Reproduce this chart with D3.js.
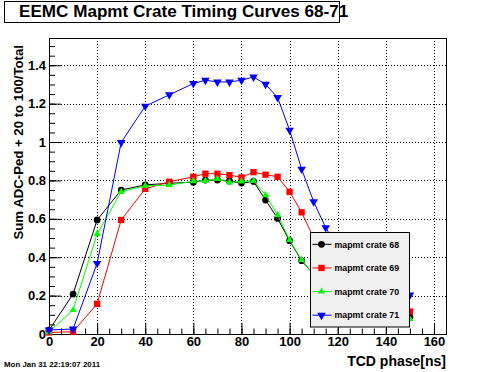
<!DOCTYPE html>
<html>
<head>
<meta charset="utf-8">
<script src="https://cdn.jsdelivr.net/npm/d3@7"></script>
<style>
  body { margin: 0; background: #fff; }
  svg { display: block; font-family: "Liberation Sans", Arial, Helvetica, sans-serif; font-weight: bold; }
</style>
</head>
<body>
<svg id="vis" width="496" height="372"></svg>
<script>
// TCD phase [ns] of each scan point
var phase = [0, 10, 20, 30, 40, 50, 60, 65, 70, 75, 80, 85, 90, 95, 100, 105, 110, 115, 120, 130, 140, 150];

// Sum ADC-Ped + 20 to 100 / Total, one array per crate
var crate68 = [0.02, 0.208, 0.594, 0.750, 0.777, 0.785, 0.791, 0.802, 0.802, 0.797, 0.786, 0.795, 0.698, 0.602, 0.486, 0.382, 0.31, 0.25, 0.20, 0.13, 0.10, 0.09];
var crate69 = [0.008, 0.012, 0.157, 0.594, 0.756, 0.793, 0.819, 0.835, 0.835, 0.828, 0.816, 0.843, 0.830, 0.819, 0.741, 0.634, 0.50, 0.40, 0.31, 0.19, 0.14, 0.117];
var crate70 = [0.01, 0.125, 0.521, 0.741, 0.772, 0.776, 0.796, 0.798, 0.808, 0.790, 0.795, 0.798, 0.724, 0.620, 0.490, 0.386, 0.31, 0.25, 0.19, 0.12, 0.09, 0.078];
var crate71 = [0.021, 0.026, 0.368, 0.998, 1.187, 1.246, 1.305, 1.322, 1.313, 1.313, 1.322, 1.339, 1.301, 1.232, 1.062, 0.859, 0.689, 0.554, 0.45, 0.32, 0.24, 0.203];

var seriesNames = ["mapmt crate 68", "mapmt crate 69", "mapmt crate 70", "mapmt crate 71"];
var xTicks = [0, 20, 40, 60, 80, 100, 120, 140, 160];
var yTicks = [0, 0.2, 0.4, 0.6, 0.8, 1, 1.2, 1.4];

var FRAME = {left: 49, right: 446, top: 38, bottom: 334};

var svg = d3.select("#vis");

var x = d3.scaleLinear().domain([0, 165]).range([FRAME.left, FRAME.right]);
var y = d3.scaleLinear().domain([0, 1.542]).range([FRAME.bottom, FRAME.top]);

// looks for each crate
var styles = [
    {color: "#000000", symbol: d3.symbolCircle, size: 36, rot: 0},
    {color: "#ff0000", symbol: d3.symbolSquare, size: 40, rot: 0},
    {color: "#00ff00", symbol: d3.symbolTriangle, size: 22, rot: 0},
    {color: "#0000ff", symbol: d3.symbolTriangle, size: 32, rot: 180}
];
var allSeries = [crate68, crate69, crate70, crate71].map(function (vals, i) {
    return {name: seriesNames[i], style: styles[i], points: phase.map(function (p, j) { return [p, vals[j]]; })};
});

// dotted grid
var grid = svg.append("g");
grid.selectAll("line.gx")
    .data(xTicks.slice(1))
    .enter().append("line")
    .attr("x1", function (d) { return Math.round(x(d)) + 0.5; })
    .attr("x2", function (d) { return Math.round(x(d)) + 0.5; })
    .attr("y1", FRAME.top).attr("y2", FRAME.bottom)
    .attr("stroke", "#000").attr("stroke-dasharray", "1,2");
grid.selectAll("line.gy")
    .data(yTicks.slice(1))
    .enter().append("line")
    .attr("y1", function (d) { return Math.round(y(d)) + 0.5; })
    .attr("y2", function (d) { return Math.round(y(d)) + 0.5; })
    .attr("x1", FRAME.left).attr("x2", FRAME.right)
    .attr("stroke", "#000").attr("stroke-dasharray", "1,2");

// frame
svg.append("rect")
    .attr("x", FRAME.left + 0.5).attr("y", FRAME.top + 0.5)
    .attr("width", FRAME.right - FRAME.left).attr("height", FRAME.bottom - FRAME.top)
    .attr("fill", "none").attr("stroke", "#000");

// axes, ticks drawn inward like ROOT
var xMinor = d3.range(0, 166, 5);
var yMinor = d3.range(0, 1.5401, 0.05);

svg.append("g")
    .attr("transform", "translate(0," + FRAME.bottom + ")")
    .call(d3.axisBottom(x).tickValues(xMinor).tickSize(-5.5).tickSizeOuter(0).tickFormat(""));
var xAxis = svg.append("g")
    .attr("transform", "translate(0," + FRAME.bottom + ")")
    .call(d3.axisBottom(x).tickValues(xTicks).tickSize(-11).tickSizeOuter(0).tickPadding(3).tickFormat(d3.format("d")));

svg.append("g")
    .attr("transform", "translate(" + FRAME.left + ",0)")
    .call(d3.axisLeft(y).tickValues(yMinor).tickSize(-6).tickSizeOuter(0).tickFormat(""));
var yAxis = svg.append("g")
    .attr("transform", "translate(" + FRAME.left + ",0)")
    .call(d3.axisLeft(y).tickValues(yTicks).tickSize(-12).tickSizeOuter(0).tickPadding(3).tickFormat(function (d) { return d3.format("")(+d.toFixed(1)); }));

svg.selectAll(".tick line").attr("stroke", "#000");
svg.selectAll(".domain").attr("stroke", "#000");
xAxis.selectAll("text").attr("font-size", 13).attr("fill", "#000");
yAxis.selectAll("text").attr("font-size", 13).attr("fill", "#000");
xAxis.attr("font-family", null);
yAxis.attr("font-family", null);

// polylines through the scan points
var line = d3.line()
    .x(function (d) { return x(d[0]); })
    .y(function (d) { return y(d[1]); });

var groups = svg.selectAll("g.crate")
    .data(allSeries)
    .enter().append("g")
    .attr("class", "crate");

groups.append("path")
    .attr("d", function (d) { return line(d.points); })
    .attr("fill", "none")
    .attr("stroke", function (d) { return d.style.color; })
    .attr("stroke-width", 1);

groups.each(function (s) {
    d3.select(this).selectAll("path.mk")
        .data(s.points)
        .enter().append("path")
        .attr("class", "mk")
        .attr("d", d3.symbol().type(s.style.symbol).size(s.style.size))
        .attr("transform", function (d) { return "translate(" + x(d[0]) + "," + y(d[1]) + ") rotate(" + s.style.rot + ")"; })
        .attr("fill", s.style.color);
});

// legend
var LEG = {x: 310.5, y: 232.5, w: 99, h: 94.5};
svg.append("rect")
    .attr("x", LEG.x).attr("y", LEG.y).attr("width", LEG.w).attr("height", LEG.h)
    .attr("fill", "#f0f0f0").attr("stroke", "#000");
var rows = svg.selectAll("g.leg")
    .data(allSeries)
    .enter().append("g")
    .attr("class", "leg")
    .attr("transform", function (d, i) { return "translate(" + LEG.x + "," + (LEG.y + LEG.h / 8 + i * LEG.h / 4) + ")"; });
rows.append("line")
    .attr("x1", 2).attr("x2", 21).attr("y1", 0).attr("y2", 0)
    .attr("stroke", function (d) { return d.style.color; });
rows.append("path")
    .attr("d", function (d) { return d3.symbol().type(d.style.symbol).size(d.style.size)(); })
    .attr("transform", function (d) { return "translate(11,0) rotate(" + d.style.rot + ")"; })
    .attr("fill", function (d) { return d.style.color; });
rows.append("text")
    .attr("x", 24).attr("y", 3.2)
    .attr("font-size", 8.8)
    .text(function (d) { return d.name; });

// title box (the text runs slightly past the box, as in the original)
svg.append("rect")
    .attr("x", 4.5).attr("y", 1.5).attr("width", 335).attr("height", 21)
    .attr("fill", "#fff").attr("stroke", "#000");
svg.append("text")
    .attr("x", 19).attr("y", 17)
    .attr("font-size", 17.1)
    .text("EEMC Mapmt Crate Timing Curves 68-71");

// axis titles
svg.append("text")
    .attr("transform", "translate(23,45) rotate(-90)")
    .attr("text-anchor", "end")
    .attr("font-size", 13.2)
    .text("Sum ADC-Ped + 20 to 100/Total");
svg.append("text")
    .attr("x", 446).attr("y", 366)
    .attr("text-anchor", "end")
    .attr("font-size", 14)
    .text("TCD phase[ns]");

// date stamp
svg.append("text")
    .attr("x", 4).attr("y", 366.5)
    .attr("font-size", 7.9)
    .text("Mon Jan 31 22:19:07 2011");
</script>
</body>
</html>
